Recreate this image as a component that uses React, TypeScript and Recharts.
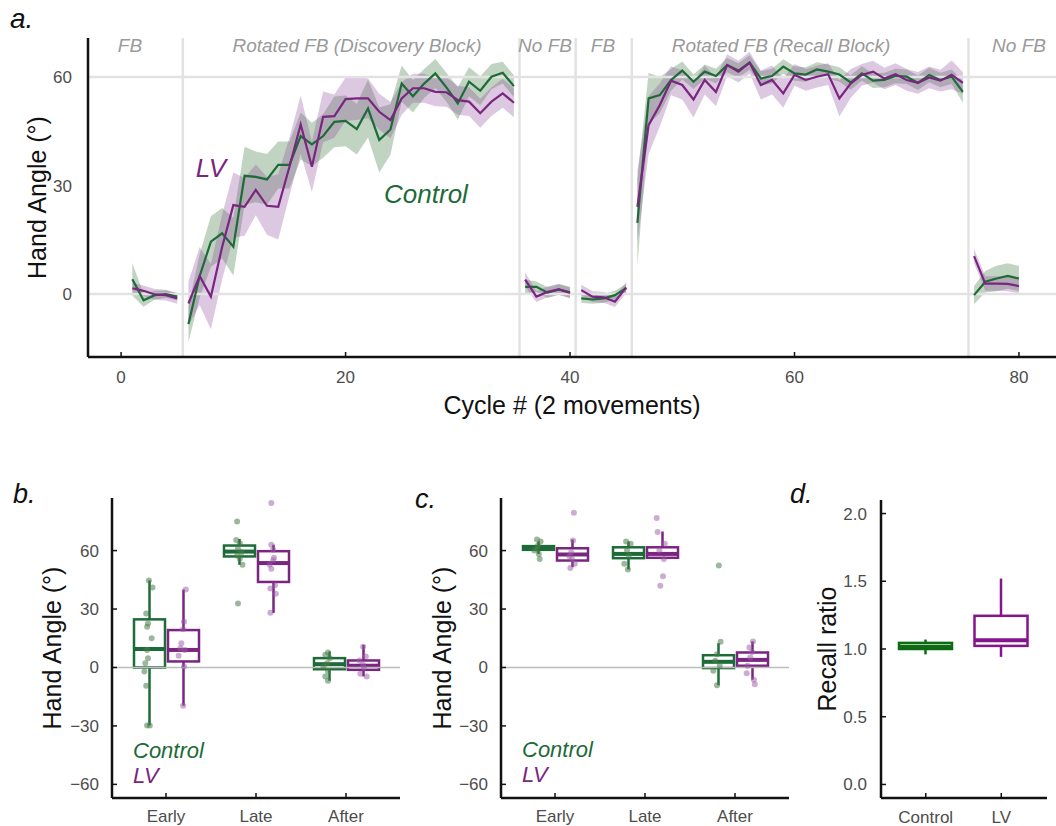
import React from "react";
import {
  ComposedChart,
  Area,
  Line,
  Bar,
  Scatter,
  XAxis,
  YAxis,
  ReferenceLine,
} from "recharts";

const FONT = "'Liberation Sans', Arial, Helvetica, sans-serif";
const GREEN = "#1d6b38";
const PURPLE = "#7a2580";
const D_GREEN = "#0d6b12";
const D_PURPLE = "#84158a";

// ---------- panel a: hand angle per cycle ----------
const cycles = Array.from({ length: 80 }, (_, i) => i + 1);
const blockEnds = [5, 35, 40, 45, 75];
const blockEdges = [5.5, 35.5, 40.5, 45.5, 75.5];

const ctrlMean = [
  4.1, -1.7, -0.3, 0, -0.7,
  -8.3, 5, 14.5, 16.8, 13.1, 32.7, 32.4, 31.7, 35.7, 35.7, 43.7, 41.4, 43.7, 47.6, 47.9,
  45.6, 51.3, 42.6, 45.5, 58.2, 54.7, 58.2, 61, 57.1, 52.7, 58.7, 56.2, 60.1, 61.2, 57.5,
  2, 2, 0.4, 1.3, 0.5,
  -1.2, -1.5, -1.2, -0.3, 1.6,
  19.7, 54.1, 55, 59.2, 61.8, 58.7, 61.5, 60.3, 63.3, 61.8, 64, 59.6, 60.3, 62.9, 61,
  60.7, 62.1, 61.5, 60.7, 58.5, 61, 59, 59.2, 60.3, 60.1, 58.4, 60.6, 59.2, 60.1, 55.9,
  -0.3, 3.4, 4.3, 5, 4.3,
];
const lvMean = [
  1.6, 0.9, -0.1, -0.3, -1.2,
  -2.6, 5, -0.7, 13, 24.6, 24.1, 28.8, 24.4, 24.1, 35.2, 46.9, 35.2, 49, 49.2, 53.9,
  54.1, 54.1, 50.4, 48.1, 54.1, 56.9, 56.9, 55.9, 55.8, 53.6, 53.2, 50, 53.2, 55.5, 52.9,
  4, -0.7, 0.6, 1.3, 0.3,
  1.1, -0.7, -0.9, -2.1, 1.8,
  24.1, 46.7, 52.3, 59, 57.8, 53.8, 59.2, 55.9, 63.3, 61.5, 64, 57.8, 59.2, 55.5, 60.6,
  59.2, 60.1, 60.8, 54.1, 58.2, 60.6, 61.5, 59.6, 60.8, 59.2, 58.4, 59.9, 59, 60.6, 58.4,
  10.5, 2.9, 2.9, 2.8, 2.2,
];
const ctrlSe = [
  4.5, 1.8, 1.2, 1, 1,
  5, 6, 7, 7, 8, 8, 7, 7, 6.5, 6.5, 6.5, 6, 6, 7, 7,
  7, 8, 9, 7, 5, 4.5, 4, 4, 4, 4.5, 4, 4, 3.5, 3, 3,
  2, 1.5, 1.5, 1.5, 1.5,
  1.2, 1.2, 1.2, 1.2, 1.2,
  12, 7, 5, 3, 2.5, 2, 2, 2, 2, 2, 2, 2, 2, 2, 2,
  2, 2, 2, 2, 2, 2, 2, 2, 2, 2, 2, 2, 2, 2, 3,
  2.5, 3, 3.5, 3.5, 3.5,
];
const lvSe = [
  1.5, 1.5, 1.5, 1.5, 1.5,
  6, 8, 9, 9, 9, 8, 7, 8, 9, 8, 8, 7, 7, 6, 6,
  6, 5.5, 5, 5, 4.5, 4, 4, 4, 4, 4, 4, 4, 4, 4, 4,
  2, 1.5, 1.5, 1.5, 1.5,
  1.5, 1.5, 1.5, 1.5, 1.5,
  10, 8, 6, 4, 4, 5, 4, 4, 3, 3, 3, 4, 4, 4, 3,
  3, 3, 3, 5, 4, 3, 3, 3, 3, 3, 3, 3, 3, 4, 3,
  2, 2, 2, 2, 2,
];

const rowsA: any[] = [];
cycles.forEach((c, i) => {
  rowsA.push({
    cycle: c,
    ctrl: ctrlMean[i],
    lv: lvMean[i],
    ctrlBand: [ctrlMean[i] - ctrlSe[i], ctrlMean[i] + ctrlSe[i]],
    lvBand: [lvMean[i] - lvSe[i], lvMean[i] + lvSe[i]],
  });
  // empty row so lines and ribbons break between blocks
  if (blockEnds.includes(c)) rowsA.push({ cycle: c + 0.5 });
});

// ---------- panels b & c: boxes [min, q1, median, q3, max] ----------
const phases = ["Early", "Late", "After"];
const bCtrlBox = [
  [-29.8, 0, 9.5, 24.7, 44.7],
  [52.7, 57, 59.5, 62.6, 66],
  [-6.8, -0.9, 1.7, 4.8, 8.2],
];
const bLvBox = [
  [-19.6, 3.1, 9, 19.2, 40],
  [28, 43.9, 53.6, 59.7, 63],
  [-4.6, -1.2, 0.9, 3.6, 11.6],
];
const cCtrlBox = [
  [58.3, 60.4, 61.2, 62.3, 64.7],
  [50.3, 56.1, 58.3, 61.7, 64.7],
  [-9.1, -0.3, 2.9, 6.3, 12.5],
];
const cLvBox = [
  [51.5, 54.9, 58, 61.2, 65.7],
  [56.3, 56.3, 58.3, 61.7, 69.8],
  [-6.3, 0.9, 3.9, 7.7, 13.4],
];

// individual participants [x position, angle]
const bCtrlPts = [
  [0.81, 44.7], [0.85, 41], [0.78, 27.7], [0.8, 22.6], [0.79, 20.9], [0.84, 15], [0.79, 9],
  [0.8, 4.8], [0.77, 2.2], [0.76, -2], [0.78, -9.4], [0.79, -29.8], [0.82, -29.8],
  [1.79, 75], [1.78, 65.5], [1.82, 63.8], [1.8, 60.9], [1.84, 59.2], [1.79, 57.5],
  [1.82, 55.8], [1.85, 52.7], [1.8, 32.8],
  [2.8, 7.7], [2.77, 6.5], [2.82, 4.8], [2.79, 2.2], [2.75, 0.5], [2.8, -2], [2.77, -4.6], [2.8, -6.8],
];
const bLvPts = [
  [1.22, 40], [1.2, 23.5], [1.19, 19.6], [1.16, 9.9], [1.21, 9], [1.14, 6], [1.2, 0.5],
  [1.19, -19.6], [1.17, 12.4],
  [2.17, 84.4], [2.17, 63], [2.19, 60.4], [2.2, 56.3], [2.15, 52.9], [2.17, 50.7], [2.21, 42.2],
  [2.16, 40.5], [2.22, 37.9], [2.16, 28.1], [2.19, 55],
  [3.19, 10.7], [3.22, 5.6], [3.15, 3.6], [3.19, 1.4], [3.2, -0.3], [3.16, -3.2], [3.23, -4.6],
];
const cCtrlPts = [
  [0.8, 65.7], [0.84, 64.7], [0.81, 62.6], [0.77, 60], [0.82, 58.3], [0.83, 55.7], [0.8, 61],
  [1.79, 64.7], [1.84, 63.5], [1.8, 60.2], [1.82, 57.3], [1.77, 53.2], [1.81, 50.3],
  [2.82, 52.3], [2.84, 13.2], [2.8, 6.8], [2.78, 3.4], [2.83, 0.9], [2.76, -1.7], [2.8, -9.1],
];
const cLvPts = [
  [1.21, 79.4], [1.2, 65.2], [1.18, 59.2], [1.16, 57.1], [1.22, 53.2], [1.17, 51.1], [1.19, 55.5],
  [2.13, 76.7], [2.14, 69.5], [2.22, 63.5], [2.16, 60.2], [2.21, 55.7], [2.2, 46.8], [2.17, 42],
  [3.2, 13.4], [3.16, 10.3], [3.19, 8], [3.17, 5.1], [3.14, 0.9], [3.13, -2.9], [3.21, -6.3], [3.22, -8.6],
];

// ---------- panel d: recall ratio ----------
const groups = ["Control", "LV"];
const dBox = [
  [0.96, 1.0, 1.016, 1.045, 1.07],
  [0.942, 1.023, 1.065, 1.245, 1.52],
];

const toXY = (pts: number[][]) => pts.map(([x, y]) => ({ x, y }));
const rowsB = phases.map((p, i) => ({ phase: p, ctrl: bCtrlBox[i], lv: bLvBox[i] }));
const rowsC = phases.map((p, i) => ({ phase: p, ctrl: cCtrlBox[i], lv: cLvBox[i] }));
const rowsD = groups.map((g, i) => ({ grp: g, box: dBox[i] }));

const minus = (v: number) => (v < 0 ? `\u2212${-v}` : `${v}`);

const xTick = (dy: number, fs: number, inward: number) => (p: any) => (
  <g>
    {inward > 0 && (
      <line x1={p.x} x2={p.x} y1={p.y} y2={p.y - inward} stroke="#111" strokeWidth={1.5} />
    )}
    <text x={p.x} y={p.y + dy} textAnchor="middle" fontSize={fs} fill="#4d4d4d" fontFamily={FONT}>
      {p.payload?.value}
    </text>
  </g>
);

const yTick = (gap: number, inward: number, fmt: (v: number) => string) => (p: any) => (
  <g>
    {inward > 0 && (
      <line x1={p.x} x2={p.x + inward} y1={p.y} y2={p.y} stroke="#111" strokeWidth={1.5} />
    )}
    <text x={p.x - gap} y={p.y} dy={6} textAnchor="end" fontSize={17} fill="#4d4d4d" fontFamily={FONT}>
      {fmt(Number(p.payload?.value))}
    </text>
  </g>
);

const yTitle = (text: string, off: number) => (p: any) => {
  const vb = p.viewBox || { x: 0, y: 0, height: 0 };
  return (
    <text
      transform={`translate(${vb.x + off}, ${vb.y + vb.height / 2}) rotate(-90)`}
      textAnchor="middle"
      dy="0.35em"
      fontSize={25}
      fill="#111"
      fontFamily={FONT}
    >
      {text}
    </text>
  );
};

// range value [min, max] of one box series; null when the row has no box
const rangeOf = (key: string) => (d: any) =>
  d && Array.isArray(d[key]) ? [d[key][0], d[key][4]] : null;

// box drawn inside the [min, max] range bar that Recharts lays out
const makeBox = (rows: any[], key: string, color: (pl: any) => string, lw = 2.5, mw = 4) => (p: any) => {
  const pl = p.payload && p.payload[key] ? p.payload : rows[p.index];
  const s: number[] | undefined = pl ? pl[key] : undefined;
  const { x, y, width, height } = p;
  if (!s || [x, y, width, height].some((v) => typeof v !== "number" || isNaN(v))) return <g />;
  const col = color(pl);
  const py = (v: number) => y + (height * (s[4] - v)) / (s[4] - s[0]);
  const cx = x + width / 2;
  return (
    <g>
      <line x1={cx} x2={cx} y1={py(s[4])} y2={py(s[3])} stroke={col} strokeWidth={lw} />
      <line x1={cx} x2={cx} y1={py(s[1])} y2={py(s[0])} stroke={col} strokeWidth={lw} />
      <rect x={x} y={py(s[3])} width={width} height={py(s[1]) - py(s[3])} fill="#fff" stroke={col} strokeWidth={lw} />
      <line x1={x} x2={x + width} y1={py(s[2])} y2={py(s[2])} stroke={col} strokeWidth={mw} />
    </g>
  );
};

const dot = (fill: string, op: number) => (p: any) => (
  <circle cx={p.cx} cy={p.cy} r={3} fill={fill} fillOpacity={op} />
);

const axisStyle = { stroke: "#111", strokeWidth: 2.5 };

const BoxPanel = ({ rows, ctrlPts, lvPts, left, yOff }: any) => (
  <div style={{ position: "absolute", left, top: 480 }}>
    <ComposedChart
      width={left === 0 ? 400 : 389}
      height={346}
      data={rows}
      margin={{ top: 18, right: 0, bottom: 0, left: 0 }}
      barGap={3}
    >
      <XAxis
        xAxisId="c"
        dataKey="phase"
        padding={{ left: 9, right: 9 }}
        height={28}
        tickSize={0}
        tickMargin={0}
        tickLine={false}
        axisLine={axisStyle}
        tick={xTick(24, 17, 5)}
      />
      <XAxis xAxisId="n" dataKey="x" type="number" domain={[0.4, 3.6]} allowDataOverflow hide />
      <YAxis
        width={left === 0 ? 112 : 101}
        domain={[-67, 87]}
        ticks={[-60, -30, 0, 30, 60]}
        allowDataOverflow
        tickSize={0}
        tickMargin={0}
        tickLine={false}
        axisLine={axisStyle}
        tick={yTick(13, 5, minus)}
        label={{ content: yTitle("Hand Angle (°)", yOff) }}
      />
      <ReferenceLine xAxisId="c" y={0} stroke="#bdbdbd" strokeWidth={1.5} />
      <Bar
        xAxisId="c"
        dataKey={rangeOf("ctrl")}
        barSize={31}
        shape={makeBox(rows, "ctrl", () => GREEN)}
        isAnimationActive={false}
      />
      <Bar
        xAxisId="c"
        dataKey={rangeOf("lv")}
        barSize={31}
        shape={makeBox(rows, "lv", () => PURPLE)}
        isAnimationActive={false}
      />
      <Scatter xAxisId="n" data={toXY(ctrlPts)} dataKey="y" shape={dot("#4a7d4a", 0.55)} isAnimationActive={false} />
      <Scatter xAxisId="n" data={toXY(lvPts)} dataKey="y" shape={dot("#9a5aa6", 0.5)} isAnimationActive={false} />
    </ComposedChart>
  </div>
);

const blockLabels = [
  { x: 130, t: "FB" },
  { x: 357, t: "Rotated FB (Discovery Block)" },
  { x: 545, t: "No FB" },
  { x: 603, t: "FB" },
  { x: 781, t: "Rotated FB (Recall Block)" },
  { x: 1019, t: "No FB" },
];

export default function App() {
  return (
    <div
      style={{
        position: "absolute",
        left: 0,
        top: 0,
        width: 1056,
        height: 826,
        background: "#fff",
        fontFamily: FONT,
      }}
    >
      <div style={{ position: "absolute", left: 0, top: 0 }}>
        <ComposedChart
          width={1056}
          height={427}
          data={rowsA}
          margin={{ top: 38, right: 0, bottom: 0, left: 0 }}
        >
          <XAxis
            dataKey="cycle"
            type="number"
            domain={[-2.95, 83.3]}
            ticks={[0, 20, 40, 60, 80]}
            allowDataOverflow
            height={70}
            tickSize={0}
            tickMargin={0}
            tickLine={false}
            axisLine={axisStyle}
            tick={xTick(26, 17, 5)}
            label={{
              value: "Cycle # (2 movements)",
              position: "insideBottom",
              offset: 13,
              fontSize: 25,
              fill: "#111",
              fontFamily: FONT,
            }}
          />
          <YAxis
            width={88}
            domain={[-17.4, 70.8]}
            ticks={[0, 30, 60]}
            allowDataOverflow
            tickSize={0}
            tickMargin={0}
            tickLine={false}
            axisLine={axisStyle}
            tick={yTick(16, 0, minus)}
            label={{ content: yTitle("Hand Angle (°)", 37.5) }}
          />
          {[0, 60].map((v) => (
            <ReferenceLine key={`h${v}`} y={v} stroke="#e2e2e2" strokeWidth={2.5} />
          ))}
          {blockEdges.map((v) => (
            <ReferenceLine key={`v${v}`} x={v} stroke="#e2e2e2" strokeWidth={2.5} />
          ))}
          <Area
            dataKey="ctrlBand"
            type="linear"
            stroke="none"
            fill="#3d7a3d"
            fillOpacity={0.32}
            connectNulls={false}
            isAnimationActive={false}
            activeDot={false}
          />
          <Area
            dataKey="lvBand"
            type="linear"
            stroke="none"
            fill="#8c4a98"
            fillOpacity={0.3}
            connectNulls={false}
            isAnimationActive={false}
            activeDot={false}
          />
          <Line
            dataKey="ctrl"
            type="linear"
            stroke={GREEN}
            strokeWidth={2.2}
            dot={false}
            activeDot={false}
            connectNulls={false}
            isAnimationActive={false}
          />
          <Line
            dataKey="lv"
            type="linear"
            stroke={PURPLE}
            strokeWidth={2.2}
            dot={false}
            activeDot={false}
            connectNulls={false}
            isAnimationActive={false}
          />
        </ComposedChart>
      </div>

      <BoxPanel rows={rowsB} ctrlPts={bCtrlPts} lvPts={bLvPts} left={0} yOff={52} />
      <BoxPanel rows={rowsC} ctrlPts={cCtrlPts} lvPts={cLvPts} left={400} yOff={42} />

      <div style={{ position: "absolute", left: 780, top: 480 }}>
        <ComposedChart
          width={267}
          height={346}
          data={rowsD}
          margin={{ top: 20, right: 0, bottom: 0, left: 0 }}
        >
          <XAxis
            dataKey="grp"
            padding={{ left: 7, right: 8 }}
            height={28}
            tickSize={0}
            tickMargin={0}
            tickLine={false}
            axisLine={axisStyle}
            tick={xTick(25, 17, 5)}
          />
          <YAxis
            width={101}
            domain={[-0.1, 2.1]}
            ticks={[0, 0.5, 1, 1.5, 2]}
            allowDataOverflow
            tickSize={0}
            tickMargin={0}
            tickLine={false}
            axisLine={axisStyle}
            tick={yTick(14, 5, (v) => v.toFixed(1))}
            label={{ content: yTitle("Recall ratio", 47) }}
          />
          <Bar
            dataKey={rangeOf("box")}
            barSize={53}
            shape={makeBox(rowsD, "box", (pl) => (pl.grp === "LV" ? D_PURPLE : D_GREEN), 2.5, 4)}
            isAnimationActive={false}
          />
        </ComposedChart>
      </div>

      <svg
        width={1056}
        height={826}
        style={{ position: "absolute", left: 0, top: 0, pointerEvents: "none" }}
        fontFamily={FONT}
      >
        <g fontStyle="italic" fill="#111">
          <text x={10} y={28} fontSize={28}>a.</text>
          <text x={13} y={503} fontSize={27}>b.</text>
          <text x={415} y={508} fontSize={27}>c.</text>
          <text x={790} y={503} fontSize={27}>d.</text>
        </g>
        <g fontStyle="italic" fill="#9a9a9a" fontSize={19} textAnchor="middle">
          {blockLabels.map((b, i) => (
            <text key={i} x={b.x} y={52}>{b.t}</text>
          ))}
        </g>
        <g fontStyle="italic" fontSize={26} textAnchor="middle">
          <text x={211} y={177} fill={PURPLE}>LV</text>
          <text x={426} y={203} fill={GREEN}>Control</text>
        </g>
        <g fontStyle="italic" fontSize={22}>
          <text x={133} y={758} fill={GREEN}>Control</text>
          <text x={133} y={783} fill={PURPLE}>LV</text>
          <text x={522} y={757} fill={GREEN}>Control</text>
          <text x={522} y={782} fill={PURPLE}>LV</text>
        </g>
      </svg>
    </div>
  );
}
